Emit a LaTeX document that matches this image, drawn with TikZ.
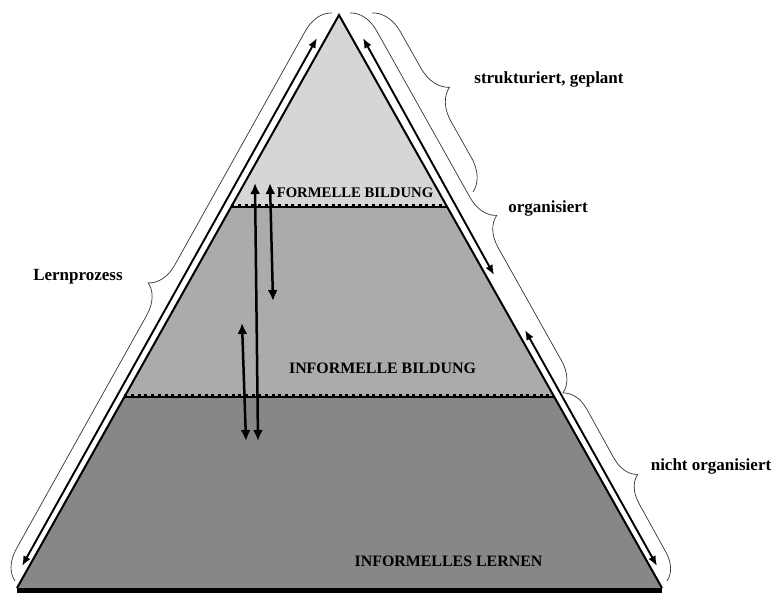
\documentclass[tikz,border=0pt]{standalone}
\usepackage{fontspec}
\setmainfont{Liberation Serif}
\usetikzlibrary{calc,arrows.meta,decorations.pathreplacing}
\definecolor{formal}{gray}{0.84}
\definecolor{informal}{gray}{0.67}
\definecolor{lernen}{gray}{0.53}

\begin{document}
\begin{tikzpicture}[x=1pt,y=-1pt]
\tikzstyle{edgeline}=[line width=2pt, line join=miter]
\tikzstyle{bound}=[line width=1.2pt]
\tikzstyle{bounddash}=[line width=2.8pt, dash pattern=on 3pt off 3.7pt]
\tikzstyle{twoway}=[{Latex[length=11pt,width=10pt]}-{Latex[length=11pt,width=10pt]}, line width=2.5pt]
\tikzstyle{sidearrow}=[{Latex[length=10pt,width=8pt]}-{Latex[length=10pt,width=8pt]}, line width=1.9pt]
\tikzstyle{curly}=[decorate, decoration={brace, amplitude=29pt}, line width=0.7pt, black!80]
\tikzstyle{layertext}=[anchor=base, font=\bfseries\fontsize{15.9}{18}\selectfont, inner sep=0pt]
\tikzstyle{sidetext}=[anchor=base, font=\bfseries\fontsize{17}{20}\selectfont, inner sep=0pt]
  \useasboundingbox (0,0) rectangle (776,594);
  % corners of the pyramid
  \coordinate (A) at (339,15);
  \coordinate (BL) at (17,588);
  \coordinate (BR) at (662,588);
  \coordinate (L1) at ($(A)!0.335!(BL)$);
  \coordinate (R1) at ($(A)!0.335!(BR)$);
  \coordinate (L2) at ($(A)!0.6667!(BL)$);
  \coordinate (R2) at ($(A)!0.6667!(BR)$);
  % layers
  \fill[formal] (A) -- (L1) -- (R1) -- cycle;
  \fill[informal] (L1) -- (L2) -- (R2) -- (R1) -- cycle;
  \fill[lernen] (L2) -- (BL) -- (BR) -- (R2) -- cycle;
  \draw[bound] (L1) -- (R1);
  \draw[bounddash] ([yshift=1.6pt]L1) -- ([yshift=1.6pt]R1);
  \draw[bound] (L2) -- (R2);
  \draw[bounddash] ([yshift=1.6pt]L2) -- ([yshift=1.6pt]R2);
  \draw[edgeline] (BL) -- (A) -- (BR);
  \draw[line width=5pt] ([yshift=-2.5pt]BL) -- ([yshift=-2.5pt]BR);
  % layer names
  \node[layertext, font=\bfseries\fontsize{14.7}{17}\selectfont] (formell) at (355,197) {FORMELLE BILDUNG};
  \node[layertext] (informell) at (382.5,373) {INFORMELLE BILDUNG};
  \node[layertext] (lernen) at (448.5,566) {INFORMELLES LERNEN};
  % arrows inside
  \coordinate (v1a) at (255,183);
  \coordinate (v1b) at (258,441);
  \coordinate (v2a) at (270,183);
  \coordinate (v2b) at (273,301);
  \coordinate (v3a) at (242,323);
  \coordinate (v3b) at (246,441);
  \draw[twoway] (v1a) -- (v1b);
  \draw[twoway] (v2a) -- (v2b);
  \draw[twoway] (v3a) -- (v3b);
  % arrows along the sides
  \coordinate (la) at (317,38);
  \coordinate (lb) at (22,566);
  \coordinate (ra1) at (363,38);
  \coordinate (rb1) at (494,275);
  \coordinate (ra2) at (525,330);
  \coordinate (rb2) at (657,566);
  \draw[sidearrow] (la) -- (lb);
  \draw[sidearrow] (ra1) -- (rb1);
  \draw[sidearrow] (ra2) -- (rb2);
  % braces
  \coordinate (lc1) at (15,581);
  \coordinate (lc2) at (332,13);
  \coordinate (sc1) at (372,13);
  \coordinate (sc2) at (473,192);
  \coordinate (oc1) at (350,13);
  \coordinate (oc2) at (563,393);
  \coordinate (nc2) at (667,581);
  \draw[curly] (lc1) -- (lc2);
  \draw[curly, decoration={amplitude=31pt}] (sc1) -- (sc2);
  \draw[curly, decoration={aspect=0.57}] (oc1) -- (oc2);
  \draw[curly, decoration={amplitude=26pt}] (oc2) -- (nc2);
  % labels
  \node[sidetext] (lern) at (78,280) {Lernprozess};
  \node[sidetext] (plan) at (549,83) {strukturiert, geplant};
  \node[sidetext] (org) at (548,212) {organisiert};
  \node[sidetext] (norg) at (711,470) {nicht organisiert};
\end{tikzpicture}
\end{document}
